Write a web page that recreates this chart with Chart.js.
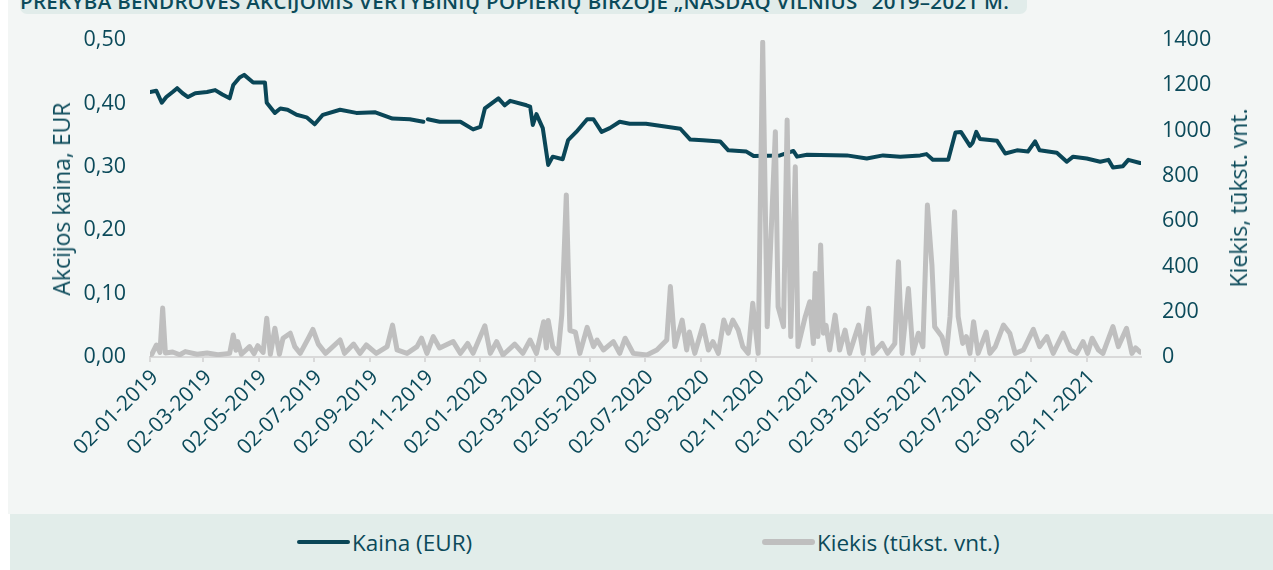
<!DOCTYPE html>
<html>
<head>
<meta charset="utf-8">
<script src="https://cdn.jsdelivr.net/npm/chart.js@4.4.1/dist/chart.umd.min.js"></script>
<style>
body { margin: 0; background: #fff; font-family: "Open Sans", sans-serif; }
#wrap { position: relative; width: 1273px; height: 570px; overflow: hidden; }
#panel { position: absolute; left: 8px; top: 0; width: 1265px; height: 514px; background: #f3f6f5; }
#titlebar { position: absolute; left: 20px; top: -20px; width: 1007px; height: 34px; background: #e1ecea; border-radius: 7px; }
#titletext { position: absolute; left: 20px; top: -8px; line-height: 18px; font-size: 20.5px; font-weight: 600; color: #0b4a5a; white-space: nowrap; letter-spacing: 0.3px; }
#chartbox { position: absolute; left: 0; top: 0; width: 1273px; height: 514px; }
.ytitle { position: absolute; font-size: 23px; color: #0b4a5a; white-space: nowrap; transform: translate(-50%, -50%) rotate(-90deg); }
#legend { position: absolute; left: 10px; top: 514px; width: 1263px; height: 56px; background: #e2edea; }
.litem { position: absolute; top: 0; height: 56px; display: flex; align-items: center; font-size: 22.5px; color: #0b4a5a; }
.lline { width: 53px; margin-right: 2px; border-radius: 3px; }
</style>
</head>
<body>
<div id="wrap">
  <div id="panel"></div>
  <div id="titlebar"></div>
  <div id="titletext">PREKYBA BENDROVĖS AKCIJOMIS VERTYBINIŲ POPIERIŲ BIRŽOJE „NASDAQ VILNIUS“ 2019–2021 M.</div>
  <div id="chartbox"><canvas id="myChart" width="1273" height="514"></canvas></div>
  <div class="ytitle" style="left:61px; top:199px;">Akcijos kaina, EUR</div>
  <div class="ytitle" style="left:1238px; top:198px;">Kiekis, tūkst. vnt.</div>
  <div id="legend"></div>
</div>
<script>
// kaina (EUR)
const priceDates = ['2019-01-02','2019-01-09','2019-01-15','2019-01-20','2019-01-27','2019-02-01','2019-02-07','2019-02-13','2019-02-21',
  '2019-03-06','2019-03-15','2019-03-23','2019-03-31','2019-04-04','2019-04-11','2019-04-16','2019-04-26','2019-05-09','2019-05-11',
  '2019-05-20','2019-05-26','2019-06-03','2019-06-13','2019-06-24','2019-07-03','2019-07-12','2019-07-31','2019-08-18','2019-09-08',
  '2019-09-27','2019-10-16','2019-10-31','2019-11-02','2019-11-05','2019-11-18','2019-12-11','2019-12-25','2020-01-02','2020-01-07',
  '2020-01-22','2020-01-29','2020-02-04','2020-02-22','2020-02-26','2020-02-29','2020-03-04','2020-03-11','2020-03-17','2020-03-22',
  '2020-04-02','2020-04-08','2020-04-17','2020-04-29','2020-05-06','2020-05-15','2020-05-24','2020-06-04','2020-06-15','2020-07-03',
  '2020-08-10','2020-08-21','2020-09-04','2020-09-23','2020-10-02','2020-10-22','2020-10-30','2020-11-28','2020-12-13','2020-12-17',
  '2020-12-28','2021-02-10','2021-03-04','2021-03-22','2021-04-10','2021-05-02','2021-05-09','2021-05-16','2021-06-02','2021-06-10',
  '2021-06-16','2021-06-26','2021-06-29','2021-07-03','2021-07-07','2021-07-26','2021-08-04','2021-08-17','2021-08-29','2021-09-06',
  '2021-09-11','2021-09-30','2021-10-11','2021-10-18','2021-11-02','2021-11-17','2021-11-26','2021-12-01','2021-12-12','2021-12-18',
  '2021-12-31'];
const priceValues = [0.418,0.420,0.401,0.410,0.418,0.424,0.416,0.410,0.416,
  0.418,0.421,0.414,0.408,0.429,0.441,0.445,0.433,0.433,0.401,
  0.385,0.392,0.390,0.382,0.378,0.367,0.382,0.390,0.385,0.386,
  0.376,0.375,0.371,null,0.375,0.371,0.371,0.359,0.363,0.392,
  0.408,0.397,0.404,0.397,0.395,0.366,0.383,0.361,0.303,0.316,
  0.312,0.342,0.355,0.375,0.375,0.355,0.361,0.371,0.368,0.368,
  0.360,0.343,0.342,0.340,0.326,0.324,0.317,0.318,0.325,0.316,
  0.319,0.318,0.313,0.318,0.316,0.318,0.320,0.311,0.311,0.354,
  0.355,0.333,0.338,0.355,0.344,0.341,0.321,0.326,0.324,0.340,
  0.326,0.322,0.308,0.316,0.313,0.308,0.311,0.299,0.301,0.311,
  0.306];

// kiekis (tukst. vnt.)
const volumeDates = ['2019-01-02','2019-01-04','2019-01-09','2019-01-13','2019-01-16','2019-01-19','2019-01-27','2019-02-04','2019-02-10',
  '2019-02-23','2019-03-06','2019-03-18','2019-03-31','2019-04-04','2019-04-07','2019-04-09','2019-04-13','2019-04-22','2019-04-27',
  '2019-05-01','2019-05-07','2019-05-11','2019-05-15','2019-05-20','2019-05-25','2019-05-29','2019-06-06','2019-06-11','2019-06-17',
  '2019-06-26','2019-07-01','2019-07-07','2019-07-15','2019-07-31','2019-08-05','2019-08-15','2019-08-22','2019-08-29','2019-09-09',
  '2019-09-21','2019-09-27','2019-10-02','2019-10-13','2019-10-24','2019-10-29','2019-11-04','2019-11-11','2019-11-18','2019-12-03',
  '2019-12-11','2019-12-19','2019-12-25','2020-01-07','2020-01-13','2020-01-20','2020-01-27','2020-02-09','2020-02-18','2020-02-26',
  '2020-03-04','2020-03-12','2020-03-15','2020-03-17','2020-03-22','2020-03-28','2020-04-01','2020-04-06','2020-04-10','2020-04-16',
  '2020-04-21','2020-04-29','2020-05-06','2020-05-10','2020-05-17','2020-05-28','2020-06-04','2020-06-10','2020-06-19','2020-07-04',
  '2020-07-15','2020-07-26','2020-07-30','2020-08-04','2020-08-12','2020-08-17','2020-08-20','2020-08-26','2020-09-04','2020-09-10',
  '2020-09-15','2020-09-21','2020-09-27','2020-10-02','2020-10-07','2020-10-13','2020-10-18','2020-10-24','2020-10-29','2020-11-04',
  '2020-11-09','2020-11-14','2020-11-23','2020-11-26','2020-12-02','2020-12-06','2020-12-10','2020-12-15','2020-12-18','2020-12-26',
  '2020-12-31','2021-01-04','2021-01-06','2021-01-09','2021-01-12','2021-01-15','2021-01-18','2021-01-22','2021-01-28','2021-02-02',
  '2021-02-08','2021-02-13','2021-02-23','2021-02-28','2021-03-06','2021-03-11','2021-03-21','2021-03-27','2021-04-04','2021-04-08',
  '2021-04-12','2021-04-19','2021-04-24','2021-04-30','2021-05-05','2021-05-10','2021-05-15','2021-05-18','2021-05-26','2021-05-31',
  '2021-06-04','2021-06-09','2021-06-13','2021-06-18','2021-06-22','2021-06-26','2021-06-30','2021-07-05','2021-07-14','2021-07-18',
  '2021-07-24','2021-08-02','2021-08-09','2021-08-15','2021-08-24','2021-09-04','2021-09-11','2021-09-19','2021-09-26','2021-10-07',
  '2021-10-15','2021-10-22','2021-10-29','2021-11-03','2021-11-08','2021-11-15','2021-11-20','2021-12-01','2021-12-07','2021-12-16',
  '2021-12-22','2021-12-26','2021-12-31'];
const volumeValues = [10,12,53,20,216,18,22,10,24,
  12,18,10,16,97,30,68,12,46,15,
  50,20,171,12,127,12,83,105,46,16,
  83,122,57,16,75,16,57,16,53,16,
  46,141,31,16,46,83,16,90,40,68,
  16,60,16,138,16,68,9,57,16,75,
  16,156,40,161,46,16,185,716,117,110,
  16,131,46,75,31,68,16,83,16,9,
  31,75,311,46,163,31,110,16,140,31,
  68,16,163,105,163,119,46,16,237,16,
  1390,134,995,222,134,1047,90,840,46,178,
  244,60,370,90,495,105,140,31,185,31,
  119,16,141,16,215,16,60,16,60,421,
  16,303,16,105,46,671,406,134,90,16,
  178,642,178,60,90,16,156,16,110,16,
  46,141,105,16,31,122,46,90,16,105,
  31,16,68,16,83,31,16,134,46,127,
  16,40,22];

const tickDates = ['2019-01-02','2019-03-02','2019-05-02','2019-07-02','2019-09-02','2019-11-02','2020-01-02','2020-03-02','2020-05-02',
  '2020-07-02','2020-09-02','2020-11-02','2021-01-02','2021-03-02','2021-05-02','2021-07-02','2021-09-02','2021-11-02'];

const seriesNames = ['Kaina (EUR)', 'Kiekis (tūkst. vnt.)'];
const seriesColors = ['#0a4657', '#bfbfbf'];

const DAY = 86400000;
const start = Date.parse('2019-01-02');
function dayIndex(s) { return Math.round((Date.parse(s) - start) / DAY); }
function fmtDate(s) { return s.slice(8, 10) + '-' + s.slice(5, 7) + '-' + s.slice(0, 4); }

const tickLabels = {};
tickDates.forEach(d => { tickLabels[dayIndex(d)] = fmtDate(d); });

const pricePoints = priceDates.map((d, i) => ({ x: dayIndex(d), y: priceValues[i] }));
const volumePoints = volumeDates.map((d, i) => ({ x: dayIndex(d), y: volumeValues[i] }));

const textColor = '#0b4a5a';
Chart.defaults.font.family = '"Open Sans", sans-serif';

let ctx = document.getElementById('myChart').getContext('2d');
let myChart = new Chart(ctx, {
    type: 'line',
    data: {
        datasets: [{
            label: seriesNames[0],
            data: pricePoints,
            yAxisID: 'y',
            borderColor: seriesColors[0],
            borderWidth: 4,
            pointRadius: 0,
            tension: 0,
            spanGaps: false,
            borderJoinStyle: 'round',
            borderCapStyle: 'round',
            order: 2
        }, {
            label: seriesNames[1],
            data: volumePoints,
            yAxisID: 'y1',
            borderColor: seriesColors[1],
            borderWidth: 5,
            pointRadius: 0,
            tension: 0,
            borderJoinStyle: 'round',
            borderCapStyle: 'round',
            order: 1
        }]
    },
    options: {
        responsive: false,
        animation: false,
        layout: { padding: { top: 40, left: 0, right: 0, bottom: 0 } },
        plugins: { legend: { display: false }, tooltip: { enabled: false } },
        scales: {
            x: {
                type: 'linear',
                min: 0,
                max: 1095,
                afterBuildTicks: axis => { axis.ticks = tickDates.map(d => ({ value: dayIndex(d) })); },
                afterFit: axis => { axis.height = 157; },
                border: { display: true, color: '#d9d9d9', width: 2 },
                grid: { drawOnChartArea: false, drawTicks: true, tickLength: 5, color: '#d9d9d9', lineWidth: 2 },
                ticks: {
                    autoSkip: false,
                    maxRotation: 45,
                    minRotation: 45,
                    padding: 3,
                    labelOffset: 5,
                    color: textColor,
                    font: { size: 21 },
                    callback: v => tickLabels[v] || ''
                }
            },
            y: {
                position: 'left',
                min: 0,
                max: 0.5,
                afterFit: axis => { axis.width = 150; },
                border: { display: false },
                grid: { display: false, drawTicks: false },
                ticks: {
                    stepSize: 0.1,
                    padding: 24,
                    color: textColor,
                    font: { size: 21.5 },
                    callback: v => v.toFixed(2).replace('.', ',')
                }
            },
            y1: {
                position: 'right',
                min: 0,
                max: 1400,
                afterFit: axis => { axis.width = 132; },
                border: { display: false },
                grid: { display: false, drawTicks: false },
                ticks: {
                    stepSize: 200,
                    padding: 21,
                    color: textColor,
                    font: { size: 21.5 },
                    callback: v => String(v)
                }
            }
        }
    }
});

// legend built from dataset names / colours
const legend = document.getElementById('legend');
const legendX = [287, 752];
seriesNames.forEach((name, i) => {
    const item = document.createElement('div');
    item.className = 'litem';
    item.style.left = legendX[i] + 'px';
    const line = document.createElement('div');
    line.className = 'lline';
    line.style.height = (i === 0 ? 4 : 6) + 'px';
    line.style.background = seriesColors[i];
    const label = document.createElement('span');
    label.textContent = name;
    item.appendChild(line);
    item.appendChild(label);
    legend.appendChild(item);
});
</script>
</body>
</html>
